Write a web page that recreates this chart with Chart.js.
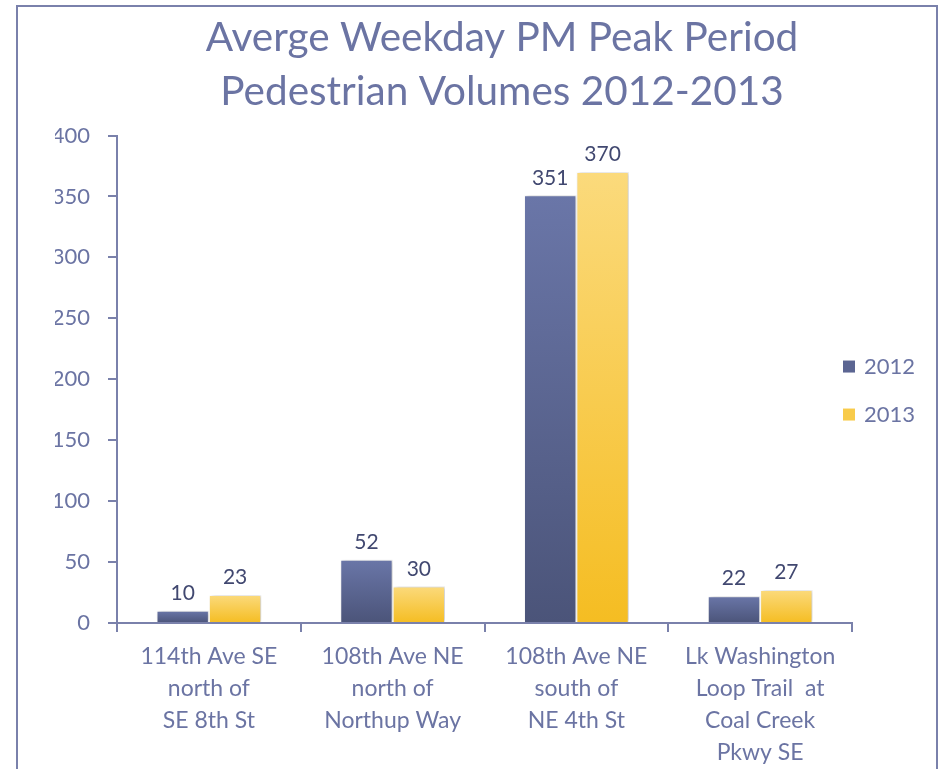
<!DOCTYPE html>
<html>
<head>
<meta charset="utf-8">
<script src="https://cdn.jsdelivr.net/npm/chart.js@4"></script>
<style>
  html, body { margin: 0; padding: 0; background: #fff; }
  #wrap { position: relative; width: 949px; height: 769px; overflow: hidden; }
  #frame { position: absolute; left: 16px; top: 5px; width: 918px; height: 900px;
           border: 2px solid #7a81ab; pointer-events: none; }
  canvas { position: absolute; left: 0; top: 0; }
</style>
</head>
<body>
<div id="wrap">
  <canvas id="pedChart" width="949" height="769"></canvas>
  <div id="frame"></div>
</div>
<script>
/*  Pedestrian volumes chart  */

var categories = [
    ["114th Ave SE", "north of", "SE 8th St"],
    ["108th Ave NE", "north of", "Northup Way"],
    ["108th Ave NE", "south of", "NE 4th St"],
    ["Lk Washington", "Loop Trail  at", "Coal Creek", "Pkwy SE"]
];
var vol2012 = [10, 52, 351, 22];
var vol2013 = [23, 30, 370, 27];
var yTicks = [0, 50, 100, 150, 200, 250, 300, 350, 400];

var TEXT = "#6b74a3";
var AXIS = "#7a81ab";
var FONT = "Lato, 'Open Sans', sans-serif";

/* ====== PER-BAR GRADIENT ====== */
function barGradient(top, bottom) {
    return function (ctx) {
        var chart = ctx.chart;
        if (!chart.chartArea || ctx.type !== "data") return bottom;
        var ys = chart.scales.y;
        var y0 = ys.getPixelForValue(ctx.raw);
        var y1 = ys.getPixelForValue(0);
        if (!isFinite(y0) || y1 - y0 < 1) return bottom;
        var g = chart.ctx.createLinearGradient(0, y0, 0, y1);
        g.addColorStop(0, top);
        g.addColorStop(1, bottom);
        return g;
    };
}

/* ====== PLUGINS ====== */
var barShadow = {
    id: "barShadow",
    beforeDatasetsDraw: function (chart) {
        var c = chart.ctx;
        c.save();
        c.shadowColor = "rgba(0,0,0,0.22)";
        c.shadowBlur = 4;
        c.shadowOffsetX = 2;
        c.shadowOffsetY = 0;
    },
    afterDatasetsDraw: function (chart) {
        chart.ctx.restore();
    }
};

var valueLabels = {
    id: "valueLabels",
    afterDatasetsDraw: function (chart) {
        var c = chart.ctx;
        c.save();
        c.font = "21px " + FONT;
        c.fillStyle = "#414870";
        c.textAlign = "center";
        c.textBaseline = "bottom";
        chart.data.datasets.forEach(function (ds, i) {
            chart.getDatasetMeta(i).data.forEach(function (bar, j) {
                c.fillText(ds.data[j], bar.x, bar.y - 7);
            });
        });
        c.restore();
    }
};

var sideLegend = {
    id: "sideLegend",
    afterDraw: function (chart) {
        var c = chart.ctx;
        var ca = chart.chartArea;
        var x = ca.right - 9;
        var y = ca.top + 231;
        c.save();
        c.font = "22px " + FONT;
        c.textBaseline = "middle";
        chart.data.datasets.forEach(function (ds) {
            c.fillStyle = ds.legendColor;
            c.fillRect(x, y - 6, 12, 12);
            c.fillStyle = TEXT;
            c.fillText(ds.label, x + 21, y);
            y += 48;
        });
        c.restore();
    }
};

/* ====== CHART ====== */
var chart = new Chart(document.getElementById("pedChart").getContext("2d"), {
    type: "bar",
    data: {
        labels: categories,
        datasets: [
            {
                label: "2012",
                data: vol2012,
                backgroundColor: barGradient("#6a76a8", "#4b5479"),
                legendColor: "#5b6592",
                borderColor: "#ffffff",
                borderWidth: 1,
                categoryPercentage: 0.57,
                barPercentage: 1.0
            },
            {
                label: "2013",
                data: vol2013,
                backgroundColor: barGradient("#fbda7c", "#f5bd22"),
                legendColor: "#f8cb4a",
                borderColor: "#ffffff",
                borderWidth: 1,
                categoryPercentage: 0.57,
                barPercentage: 1.0
            }
        ]
    },
    options: {
        responsive: false,
        animation: false,
        layout: { padding: { left: 55, right: 0, top: 0, bottom: 0 } },
        plugins: {
            legend: { display: false },
            tooltip: { enabled: false },
            title: {
                display: true,
                text: ["Averge Weekday PM Peak Period", "Pedestrian Volumes 2012-2013"],
                color: TEXT,
                font: { family: FONT, size: 40.5, weight: "normal", lineHeight: 1.34 },
                padding: { top: 11, bottom: 16 }
            }
        },
        scales: {
            x: {
                grid: { display: true, drawOnChartArea: false, drawTicks: true,
                        tickLength: 9, color: AXIS, lineWidth: 2, offset: true },
                border: { display: true, color: AXIS, width: 2 },
                ticks: { color: TEXT, font: { family: FONT, size: 23, lineHeight: 1.39 },
                         padding: 9, maxRotation: 0, autoSkip: false },
                afterFit: function (s) { s.height = 146; }
            },
            y: {
                min: 0,
                max: 400,
                afterBuildTicks: function (s) {
                    s.ticks = yTicks.map(function (v) { return { value: v }; });
                },
                grid: { display: true, drawOnChartArea: false, drawTicks: true,
                        tickLength: 9, color: AXIS, lineWidth: 2 },
                border: { display: true, color: AXIS, width: 2 },
                ticks: { color: TEXT, font: { family: FONT, size: 22 }, padding: 18 },
                afterFit: function (s) { s.width = 62; }
            },
            // empty right-hand axis that reserves room for the legend
            yRight: {
                position: "right",
                min: 0,
                max: 400,
                grid: { display: false },
                border: { display: false },
                ticks: { display: false },
                afterFit: function (s) { s.width = 97; }
            }
        }
    },
    plugins: [barShadow, valueLabels, sideLegend]
});
</script>
</body>
</html>
